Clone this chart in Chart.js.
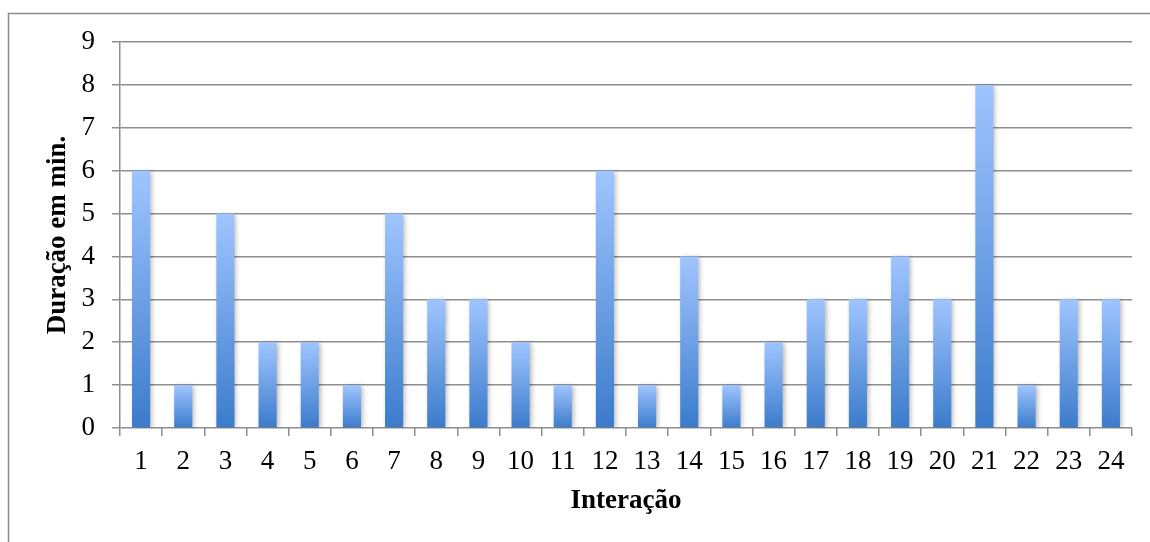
<!DOCTYPE html>
<html>
<head>
<meta charset="utf-8">
<script src="https://cdn.jsdelivr.net/npm/chart.js@4.4.1/dist/chart.umd.min.js"></script>
<style>
html,body{margin:0;padding:0;background:#fff;}
#wrap{position:relative;width:1150px;height:542px;}
canvas{position:absolute;left:0;top:0;}
</style>
</head>
<body>
<div id="wrap"><canvas id="c" width="1150" height="542"></canvas></div>
<script>
const categories = ['1','2','3','4','5','6','7','8','9','10','11','12','13','14','15','16','17','18','19','20','21','22','23','24'];
const duracao = [6,1,5,2,2,1,5,3,3,2,1,6,1,4,1,2,3,3,4,3,8,1,3,3];
const yTitle = 'Duração em min.';
const xTitle = 'Interação';

const gridColor = '#8e8e8e';
const tickFont = {family:'"Liberation Serif", serif', size:27};
const titleFont = {family:'"Liberation Serif", serif', size:27, weight:'bold'};

function barGradient(ctx){
  const chart = ctx.chart;
  const ys = chart.scales.y;
  if(!ys || ctx.type !== 'data') return '#6fa0e8';
  const v = ctx.parsed ? ctx.parsed.y : duracao[ctx.dataIndex];
  const top = ys.getPixelForValue(v);
  const base = ys.getPixelForValue(0);
  if(!isFinite(top) || !isFinite(base) || top === base) return '#6fa0e8';
  const g = chart.ctx.createLinearGradient(0, top, 0, base);
  g.addColorStop(0, '#9fc5ff');
  g.addColorStop(1, '#3b7bcb');
  return g;
}

const frame = {
  id:'frame',
  beforeDraw(chart){
    const c = chart.ctx;
    c.save();
    c.strokeStyle = '#8a8a8a';
    c.lineWidth = 1.5;
    c.beginPath();
    c.moveTo(8.5, 560);
    c.lineTo(8.5, 13.5);
    c.lineTo(1160, 13.5);
    c.stroke();
    c.restore();
  },
  beforeDatasetsDraw(chart){
    const c = chart.ctx;
    c.save();
    c.shadowColor = 'rgba(0,0,0,0.3)';
    c.shadowBlur = 5;
    c.shadowOffsetX = 2;
    c.shadowOffsetY = 1;
  },
  afterDatasetsDraw(chart){
    chart.ctx.restore();
  }
};

new Chart(document.getElementById('c'), {
  type:'bar',
  data:{
    labels:categories,
    datasets:[{
      data:duracao,
      backgroundColor:barGradient,
      borderWidth:0,
      barPercentage:0.43,
      categoryPercentage:1
    }]
  },
  options:{
    responsive:false,
    animation:false,
    layout:{padding:{left:0,top:42,right:18,bottom:0}},
    plugins:{legend:{display:false},tooltip:{enabled:false}},
    scales:{
      x:{
        offset:true,
        grid:{display:true,drawOnChartArea:false,drawTicks:true,tickLength:8,color:gridColor,lineWidth:1.5,offset:true},
        border:{display:false},
        ticks:{font:tickFont,color:'#000',padding:10,maxRotation:0,autoSkip:false},
        title:{display:true,text:xTitle,font:titleFont,color:'#000',padding:{top:0,bottom:25}},
        afterFit(s){ s.height = 114; }
      },
      y:{
        min:0,max:9,
        ticks:{stepSize:1,font:tickFont,color:'#000',padding:17},
        grid:{color:gridColor,lineWidth:1.5,tickLength:8},
        border:{display:true,color:gridColor,width:1.5},
        title:{display:true,text:yTitle,font:titleFont,color:'#000',padding:{top:42,bottom:0}},
        afterFit(s){ s.width = 120; }
      }
    }
  },
  plugins:[frame]
});
</script>
</body>
</html>
